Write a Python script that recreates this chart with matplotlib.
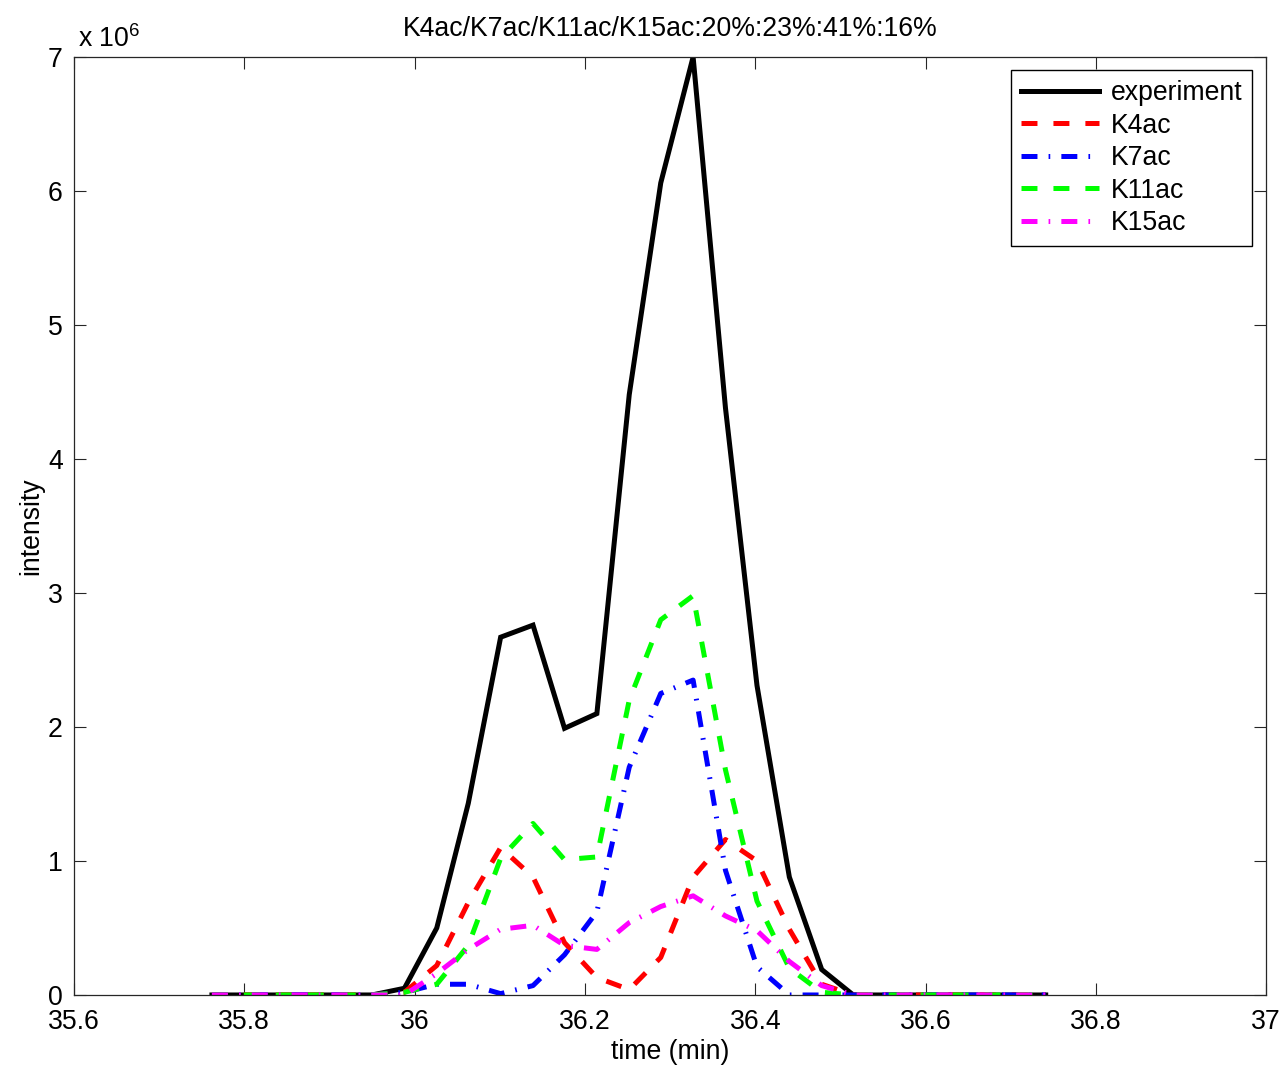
import matplotlib
matplotlib.use("Agg")
import matplotlib.pyplot as plt

plt.rcParams['font.family'] = ['Liberation Sans', 'DejaVu Sans']
plt.rcParams['lines.scale_dashes'] = False

# retention time (min)
time_min = [35.762, 35.800, 35.838, 35.875, 35.913, 35.950, 35.988, 36.026, 36.063,
            36.101, 36.139, 36.176, 36.214, 36.252, 36.289, 36.327, 36.365, 36.402,
            36.440, 36.478, 36.515, 36.553, 36.591, 36.628, 36.666, 36.704, 36.741]

# intensities in units of 1e6
experiment = [0, 0, 0, 0, 0, 0.0, 0.05, 0.50, 1.43, 2.67, 2.76, 1.99, 2.10, 4.48,
              6.06, 7.00, 4.38, 2.31, 0.88, 0.19, 0.0, 0, 0, 0, 0, 0, 0]
k4ac = [0, 0, 0, 0, 0, 0, 0.02, 0.22, 0.69, 1.10, 0.88, 0.39, 0.13, 0.04,
        0.28, 0.88, 1.16, 1.00, 0.49, 0.08, 0.0, 0, 0, 0, 0, 0, 0]
k7ac = [0, 0, 0, 0, 0, 0, 0.02, 0.08, 0.08, 0.01, 0.07, 0.30, 0.62, 1.70,
        2.25, 2.35, 0.93, 0.21, 0.0, 0.0, 0.0, 0, 0, 0, 0, 0, 0]
k11ac = [0, 0, 0, 0, 0, 0, 0.02, 0.08, 0.37, 1.02, 1.28, 1.01, 1.03, 2.20,
         2.80, 2.98, 1.68, 0.70, 0.20, 0.02, 0.0, 0, 0, 0, 0, 0, 0]
k15ac = [0, 0, 0, 0, 0, 0, 0.0, 0.16, 0.34, 0.49, 0.52, 0.37, 0.34, 0.54,
         0.66, 0.74, 0.59, 0.48, 0.25, 0.07, 0.0, 0, 0, 0, 0, 0, 0]

series_labels = ['experiment', 'K4ac', 'K7ac', 'K11ac', 'K15ac']
title_text = 'K4ac/K7ac/K11ac/K15ac:20%:23%:41%:16%'
xticks = [35.6, 35.8, 36.0, 36.2, 36.4, 36.6, 36.8, 37.0]
xtick_labels = ['35.6', '35.8', '36', '36.2', '36.4', '36.6', '36.8', '37']
yticks = [0, 1, 2, 3, 4, 5, 6, 7]

FS = 19.2
fig = plt.figure(figsize=(12.84, 10.67), dpi=100)
ax = fig.add_axes([0.0576, 0.0675, 0.9286, 0.8791])

dash = (0, (11.5, 11.5))
dashdot = (0, (11.5, 8, 1.2, 8))
lw = 3.6
ax.plot(time_min, experiment, color='black', lw=lw, label=series_labels[0],
        solid_joinstyle='miter')
ax.plot(time_min, k4ac, color='#ff0000', lw=lw, linestyle=dash, label=series_labels[1])
ax.plot(time_min, k7ac, color='#0000ff', lw=lw, linestyle=dashdot, label=series_labels[2])
ax.plot(time_min, k11ac, color='#00ff00', lw=lw, linestyle=dash, label=series_labels[3])
ax.plot(time_min, k15ac, color='#ff00ff', lw=lw, linestyle=dashdot, label=series_labels[4])

ax.set_xlim(35.6, 37.0)
ax.set_ylim(0, 7)
ax.set_xticks(xticks)
ax.set_xticklabels(xtick_labels)
ax.set_yticks(yticks)
ax.set_yticklabels([str(v) for v in yticks])
ax.tick_params(direction='in', length=8.6, width=0.8, top=True, right=True,
               labelsize=FS, color='#262626')
ax.tick_params(axis='x', pad=10)
ax.tick_params(axis='y', pad=8)
for s in ax.spines.values():
    s.set_linewidth(0.9)
    s.set_color('#262626')

ax.set_xlabel('time (min)', fontsize=FS, labelpad=3)
ax.set_ylabel('intensity', fontsize=FS, labelpad=3)
ax.set_title(title_text, fontsize=FS, pad=15)
ax.text(0.003, 1.004, r'x 10$^{\mathregular{6}}$', transform=ax.transAxes,
        fontsize=FS, ha='left', va='bottom')

leg = ax.legend(loc='upper right', bbox_to_anchor=(1 - 14 / 1192, 1 - 13 / 938),
                borderaxespad=0, fontsize=FS, handlelength=2.95, handletextpad=0.42,
                labelspacing=0.245, borderpad=0.38, fancybox=False, framealpha=1,
                edgecolor='black')
leg.get_frame().set_linewidth(1.0)

fig.savefig('out.png', dpi=100, facecolor='white')
